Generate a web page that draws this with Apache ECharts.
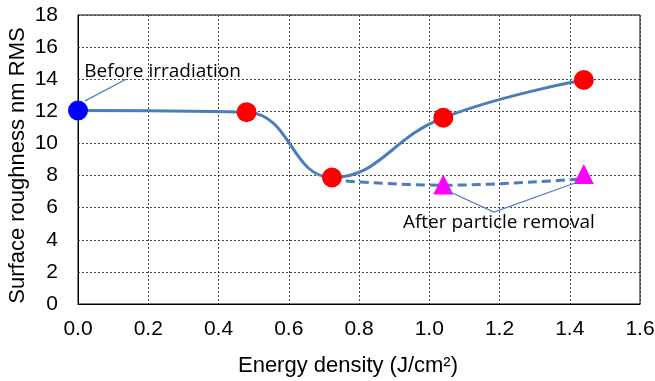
<!DOCTYPE html>
<html><head><meta charset="utf-8">
<script src="https://cdn.jsdelivr.net/npm/echarts@6/dist/echarts.min.js"></script>
<style>html,body{margin:0;padding:0;background:#fff}#c{width:655px;height:381px}</style>
</head><body><div id="c"></div>
<script>
// Data
const beforePoint = [[0.0, 12.05]];
const irradiatedX = [0.48, 0.723, 1.04, 1.44];
const irradiatedY = [11.95, 7.88, 11.6, 13.95];
const afterX = [1.04, 1.44];
const afterY = [7.45, 8.1];
const dashedX = [0.723, 1.04, 1.44];
const dashedY = [7.72, 7.4, 7.8];
const xTicks = ['0.0','0.2','0.4','0.6','0.8','1.0','1.2','1.4','1.6'];
const yTicks = ['0','2','4','6','8','10','12','14','16','18'];
const xTitle = 'Energy density (J/cm²)';
const yTitle = 'Surface roughness nm RMS';
const annoBefore = 'Before irradiation';
const annoAfter = 'After particle removal';

const solidData = beforePoint.concat(irradiatedX.map((x,i)=>[x, irradiatedY[i]]));
const redData = irradiatedX.map((x,i)=>[x, irradiatedY[i]]);
const triData = afterX.map((x,i)=>[x, afterY[i]]);
const dashData = dashedX.map((x,i)=>[x, dashedY[i]]);

const lineColor = '#4a7ebb';
const chart = echarts.init(document.getElementById('c'), null, {renderer:'canvas'});
const axisFont = {fontFamily:'Liberation Sans, Arial, sans-serif', fontSize:21, color:'#000'};
chart.setOption({
  animation:false,
  grid:{left:78, right:15, top:15, bottom:77, show:true, borderColor:'#000', borderWidth:1,
    containLabel:false, outerBoundsMode:'none'},
  xAxis:{type:'value', min:0, max:1.6, interval:0.2,
    name:xTitle, nameLocation:'middle', nameGap:51, nameMoveOverlap:false,
    nameTextStyle:{...axisFont, fontSize:22, padding:[0,22,0,0]},
    axisLine:{show:true, lineStyle:{color:'#000', width:1}},
    axisTick:{show:false},
    axisLabel:{...axisFont, margin:15, formatter:(v)=>xTicks[Math.round(v/0.2)]},
    splitLine:{show:true, lineStyle:{color:'#444', type:[2,2], width:1}}
  },
  yAxis:{type:'value', min:0, max:18, interval:2,
    name:yTitle, nameLocation:'middle', nameGap:49, nameMoveOverlap:false,
    nameTextStyle:{...axisFont, fontSize:22, padding:[0,12,0,0]},
    axisLine:{show:true, lineStyle:{color:'#000', width:1}},
    axisTick:{show:false},
    axisLabel:{...axisFont, margin:20, formatter:(v)=>yTicks[Math.round(v/2)]},
    splitLine:{show:true, lineStyle:{color:'#444', type:[2,2], width:1}}
  },
  series:[
    {type:'line', data:solidData, smooth:0.45, showSymbol:false, clip:false,
      lineStyle:{color:lineColor, width:3}, z:2},
    {type:'line', data:dashData, smooth:0.4, showSymbol:false, clip:false,
      lineStyle:{color:lineColor, width:3, type:[9,5]}, z:2},
    {type:'scatter', data:redData, symbol:'circle', symbolSize:20, clip:false,
      itemStyle:{color:'#ff0000', opacity:1}, z:3},
    {type:'scatter', data:beforePoint, symbol:'circle', symbolSize:20, clip:false,
      itemStyle:{color:'#0000ff', opacity:1}, z:3},
    {type:'scatter', data:triData, symbol:'triangle', symbolSize:[20,20], clip:false,
      itemStyle:{color:'#ff00ff', opacity:1}, z:3}
  ]
});

// Annotations anchored in data coordinates
function px(p){ return chart.convertToPixel({gridIndex:0}, p); }
const annoFont = '19px "Open Sans", "Noto Sans", sans-serif';
const b1 = px([0.02, 12.65]), b2 = px([0.137, 14.0]), bt = px([0.018, 14.5]);
const a1 = px([1.053, 7.04]), a2 = px([1.184, 5.73]), a3 = px([1.423, 7.6]), at = px([0.925, 5.05]);
chart.setOption({graphic:[
  {type:'polyline', shape:{points:[b1,b2]}, style:{stroke:lineColor, lineWidth:1.2, fill:null}, z:10},
  {type:'polyline', shape:{points:[a1,a2,a3]}, style:{stroke:lineColor, lineWidth:1.2, fill:null}, z:10},
  {type:'text', x:bt[0], y:bt[1], style:{text:annoBefore, font:annoFont, fill:'#000', verticalAlign:'middle', align:'left'}, z:11},
  {type:'text', x:at[0], y:at[1], style:{text:annoAfter, font:annoFont, fill:'#000', verticalAlign:'middle', align:'left'}, z:11}
]});
</script>
</body></html>
